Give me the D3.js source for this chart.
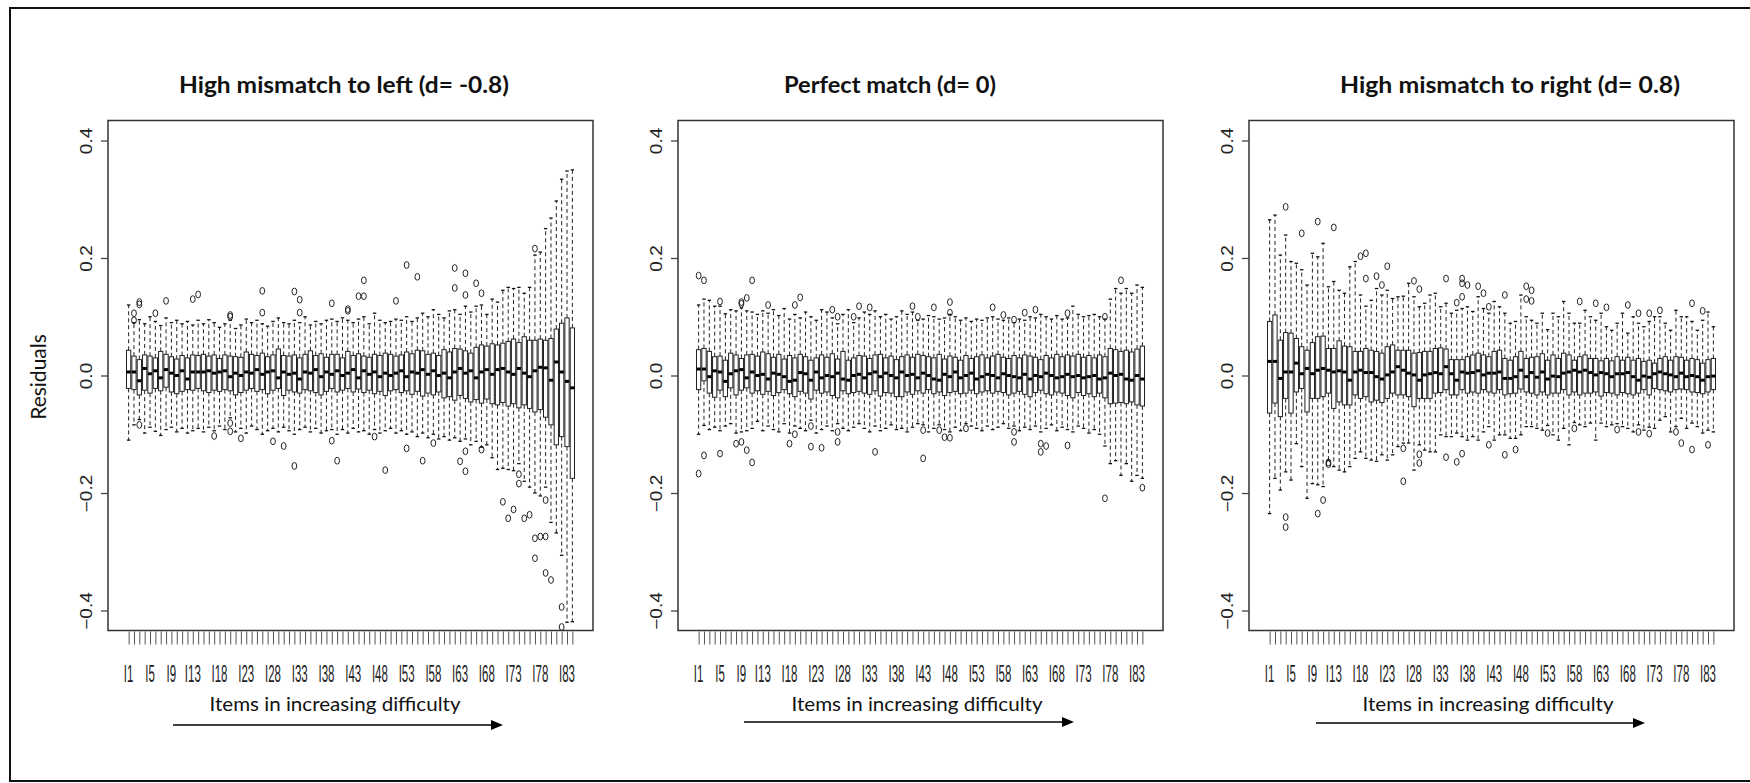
<!DOCTYPE html>
<html>
<head>
<meta charset="utf-8">
<title>Residuals by item difficulty</title>
<style>
  body { margin: 0; background: #fff; }
  svg { display: block; }
  .title { font-family: Lato, "Open Sans", sans-serif; font-weight: bold; font-size: 22px; fill: #111; }
  .xtitle { font-family: Lato, "Open Sans", sans-serif; font-size: 20px; fill: #111; }
  .ylab { font-family: Lato, "Open Sans", sans-serif; font-size: 21px; fill: #111; }
  .tick text { font-family: "Liberation Sans", Arial, sans-serif; fill: #222; }
</style>
</head>
<body>
<svg width="1750" height="783"></svg>
<script src="https://d3js.org/d3.v7.min.js"></script>
<script>
// ---- data ----
const itemCount = 84;
const labelItems = [1, 5, 9, 13, 18, 23, 28, 33, 38, 43, 48, 53, 58, 63, 68, 73, 78, 83];
const yTicks = [-0.4, -0.2, 0, 0.2, 0.4];
const titles = ['High mismatch to left (d= -0.8)', 'Perfect match (d= 0)', 'High mismatch to right (d= 0.8)'];
const xTitle = 'Items in increasing difficulty';
const yTitle = 'Residuals';

// d = -0.8
const lowQ3 = [0.043,0.033,0.027,0.035,0.033,0.030,0.041,0.036,0.032,0.028,
  0.034,0.030,0.035,0.034,0.036,0.033,0.035,0.029,0.035,0.033,
  0.032,0.031,0.040,0.036,0.034,0.038,0.032,0.035,0.045,0.034,
  0.033,0.035,0.030,0.036,0.042,0.034,0.037,0.031,0.036,0.036,
  0.030,0.041,0.034,0.037,0.033,0.031,0.036,0.034,0.038,0.036,
  0.033,0.035,0.040,0.037,0.043,0.042,0.036,0.038,0.034,0.044,
  0.040,0.046,0.045,0.042,0.038,0.048,0.052,0.050,0.054,0.052,
  0.055,0.058,0.062,0.056,0.066,0.060,0.060,0.062,0.060,0.063,
  0.079,0.089,0.098,0.081];
const lowMed = [0.006,0.006,-0.009,0.012,0.003,0.008,-0.004,0.010,0.004,0.000,
  0.008,-0.006,0.006,0.006,0.006,0.008,0.004,0.006,0.008,-0.002,
  0.004,0.000,0.006,0.004,0.010,0.002,0.006,0.008,-0.004,0.006,
  0.002,0.004,-0.006,0.006,0.004,0.010,-0.002,0.006,0.002,0.008,
  0.000,0.004,0.010,-0.004,0.008,0.002,0.006,-0.002,0.004,0.000,
  0.004,0.008,-0.002,0.006,0.004,0.010,0.002,0.008,0.000,0.004,
  -0.004,0.006,0.012,0.004,0.008,-0.004,0.006,0.010,0.002,0.010,
  0.012,0.006,0.002,0.012,0.004,-0.002,0.008,0.014,0.013,-0.008,
  0.023,0.006,-0.010,-0.021];
const lowQ1 = [-0.022,-0.024,-0.033,-0.025,-0.030,-0.022,-0.026,-0.020,-0.028,-0.031,
  -0.027,-0.024,-0.025,-0.022,-0.026,-0.029,-0.025,-0.027,-0.024,-0.026,
  -0.033,-0.029,-0.025,-0.022,-0.027,-0.024,-0.031,-0.025,-0.022,-0.034,
  -0.025,-0.028,-0.030,-0.024,-0.026,-0.029,-0.033,-0.027,-0.022,-0.028,
  -0.025,-0.022,-0.028,-0.023,-0.029,-0.025,-0.031,-0.027,-0.034,-0.026,
  -0.024,-0.029,-0.026,-0.032,-0.027,-0.035,-0.030,-0.033,-0.028,-0.038,
  -0.036,-0.042,-0.034,-0.039,-0.045,-0.041,-0.047,-0.040,-0.048,-0.050,
  -0.046,-0.052,-0.048,-0.055,-0.050,-0.056,-0.062,-0.058,-0.071,-0.084,
  -0.118,-0.104,-0.121,-0.175];
const lowHi = [0.120,0.090,0.095,0.088,0.100,0.092,0.085,0.098,0.090,0.094,
  0.088,0.092,0.086,0.094,0.088,0.095,0.090,0.082,0.088,0.094,
  0.080,0.086,0.096,0.090,0.094,0.088,0.084,0.092,0.098,0.090,
  0.088,0.094,0.090,0.100,0.086,0.092,0.088,0.094,0.096,0.092,
  0.098,0.094,0.090,0.096,0.100,0.088,0.106,0.094,0.090,0.092,
  0.096,0.094,0.100,0.092,0.098,0.106,0.100,0.112,0.104,0.098,
  0.110,0.112,0.104,0.118,0.108,0.118,0.120,0.104,0.130,0.125,
  0.145,0.150,0.148,0.150,0.140,0.150,0.205,0.210,0.250,0.268,
  0.297,0.334,0.348,0.350];
const lowLo = [-0.110,-0.084,-0.075,-0.098,-0.088,-0.095,-0.102,-0.092,-0.088,-0.096,
  -0.090,-0.098,-0.094,-0.090,-0.096,-0.088,-0.094,-0.086,-0.092,-0.072,
  -0.096,-0.090,-0.098,-0.086,-0.092,-0.100,-0.094,-0.090,-0.096,-0.088,
  -0.094,-0.100,-0.092,-0.088,-0.096,-0.090,-0.098,-0.094,-0.092,-0.100,
  -0.092,-0.098,-0.090,-0.096,-0.094,-0.100,-0.092,-0.098,-0.094,-0.090,
  -0.098,-0.094,-0.100,-0.096,-0.104,-0.098,-0.106,-0.100,-0.108,-0.104,
  -0.110,-0.106,-0.112,-0.108,-0.118,-0.112,-0.122,-0.118,-0.140,-0.160,
  -0.158,-0.160,-0.162,-0.150,-0.180,-0.190,-0.200,-0.205,-0.190,-0.250,
  -0.268,-0.306,-0.420,-0.419];
const lowOut = [[2,0.106],[2,0.094],[3,0.125],[3,0.121],[3,-0.084],[6,0.106],[8,0.127],[13,0.130],
  [14,0.138],[17,-0.103],[20,0.103],[20,0.100],[20,-0.081],[20,-0.095],[22,-0.107],[26,0.144],
  [26,0.107],[28,-0.112],[30,-0.120],[32,0.143],[32,-0.154],[33,0.129],[33,0.107],[39,0.123],
  [39,-0.111],[40,-0.145],[42,0.110],[42,0.113],[44,0.135],[45,0.135],[45,0.162],[47,-0.104],
  [49,-0.161],[51,0.127],[53,0.188],[53,-0.124],[55,0.168],[56,-0.145],[58,-0.115],[62,0.183],
  [62,0.149],[63,-0.146],[64,0.174],[64,0.137],[64,-0.129],[64,-0.163],[66,0.157],[67,0.140],
  [67,-0.126],[71,-0.215],[72,-0.243],[73,-0.228],[74,-0.168],[74,-0.184],[75,-0.243],[76,-0.237],
  [77,0.216],[77,-0.277],[77,-0.311],[78,-0.274],[79,-0.274],[79,-0.336],[79,-0.212],[80,-0.348],
  [82,-0.394],[82,-0.428]];

// d = 0
const perfQ3 = [0.044,0.046,0.041,0.032,0.033,0.026,0.038,0.035,0.029,0.035,
  0.036,0.033,0.040,0.037,0.031,0.036,0.028,0.034,0.030,0.036,
  0.032,0.026,0.030,0.035,0.031,0.037,0.028,0.041,0.026,0.030,
  0.034,0.033,0.029,0.035,0.036,0.030,0.033,0.027,0.032,0.035,
  0.031,0.036,0.034,0.032,0.030,0.036,0.028,0.033,0.031,0.026,
  0.034,0.029,0.032,0.035,0.030,0.033,0.036,0.031,0.029,0.034,
  0.030,0.035,0.033,0.031,0.027,0.034,0.030,0.036,0.032,0.035,
  0.033,0.036,0.031,0.034,0.030,0.035,0.032,0.046,0.044,0.041,
  0.043,0.040,0.045,0.050];
const perfMed = [0.011,0.011,-0.002,0.008,0.006,-0.010,0.003,0.008,0.010,-0.004,
  0.006,0.000,0.002,-0.006,0.004,0.002,-0.002,-0.010,-0.008,0.005,
  0.003,-0.008,0.006,-0.004,0.000,-0.002,0.004,-0.006,-0.008,0.000,
  0.002,-0.004,0.003,0.006,-0.002,0.004,0.000,-0.004,0.006,0.000,
  0.002,-0.004,0.004,0.000,-0.006,-0.008,0.002,-0.002,0.006,-0.004,
  0.000,0.004,-0.006,-0.002,0.002,0.000,-0.004,0.003,0.000,-0.002,
  -0.004,0.002,-0.006,0.000,-0.002,0.004,0.000,-0.004,-0.002,0.002,
  -0.002,0.000,-0.004,-0.002,0.000,-0.006,-0.004,0.004,0.000,0.002,
  -0.006,-0.008,0.000,-0.006];
const perfQ1 = [-0.024,-0.009,-0.030,-0.037,-0.025,-0.036,-0.021,-0.033,-0.025,-0.021,
  -0.030,-0.026,-0.032,-0.027,-0.034,-0.029,-0.024,-0.031,-0.036,-0.027,
  -0.030,-0.040,-0.025,-0.030,-0.028,-0.034,-0.038,-0.026,-0.031,-0.029,
  -0.027,-0.030,-0.032,-0.026,-0.035,-0.029,-0.030,-0.036,-0.036,-0.028,
  -0.032,-0.026,-0.030,-0.024,-0.031,-0.028,-0.034,-0.029,-0.027,-0.031,
  -0.030,-0.025,-0.031,-0.028,-0.026,-0.030,-0.027,-0.029,-0.033,-0.030,
  -0.027,-0.032,-0.036,-0.029,-0.025,-0.031,-0.033,-0.028,-0.030,-0.034,
  -0.038,-0.029,-0.034,-0.031,-0.036,-0.030,-0.038,-0.048,-0.047,-0.046,
  -0.048,-0.045,-0.050,-0.052];
const perfHi = [0.120,0.130,0.128,0.118,0.118,0.105,0.112,0.110,0.115,0.110,
  0.108,0.104,0.110,0.106,0.112,0.102,0.114,0.096,0.104,0.098,
  0.108,0.100,0.094,0.112,0.108,0.098,0.088,0.104,0.112,0.090,
  0.098,0.108,0.104,0.110,0.100,0.104,0.096,0.100,0.110,0.104,
  0.108,0.094,0.096,0.102,0.100,0.096,0.098,0.104,0.100,0.094,
  0.098,0.092,0.096,0.094,0.098,0.100,0.096,0.094,0.098,0.090,
  0.096,0.094,0.100,0.098,0.104,0.100,0.096,0.102,0.096,0.098,
  0.118,0.104,0.100,0.102,0.104,0.100,0.096,0.130,0.148,0.140,
  0.148,0.140,0.154,0.150];
const perfLo = [-0.100,-0.085,-0.092,-0.088,-0.094,-0.086,-0.082,-0.098,-0.096,-0.094,
  -0.090,-0.078,-0.094,-0.086,-0.092,-0.096,-0.082,-0.098,-0.086,-0.090,
  -0.094,-0.076,-0.098,-0.092,-0.086,-0.094,-0.082,-0.090,-0.094,-0.088,
  -0.082,-0.090,-0.096,-0.086,-0.094,-0.090,-0.084,-0.092,-0.090,-0.096,
  -0.088,-0.082,-0.084,-0.096,-0.090,-0.084,-0.092,-0.096,-0.088,-0.094,
  -0.082,-0.086,-0.090,-0.094,-0.086,-0.092,-0.088,-0.082,-0.090,-0.086,
  -0.094,-0.088,-0.092,-0.086,-0.096,-0.090,-0.084,-0.094,-0.088,-0.092,
  -0.096,-0.086,-0.090,-0.098,-0.092,-0.100,-0.120,-0.150,-0.145,-0.170,
  -0.150,-0.180,-0.170,-0.175];
const perfOut = [[1,0.170],[2,0.162],[5,0.126],[9,0.122],[9,0.125],[10,0.132],[11,0.162],[14,0.120],
  [19,0.120],[20,0.133],[26,0.112],[27,0.100],[30,0.100],[31,0.118],[33,0.116],[41,0.118],
  [42,0.100],[45,0.116],[48,0.125],[48,0.107],[56,0.116],[58,0.103],[60,0.095],[62,0.107],
  [64,0.112],[70,0.106],[77,0.100],[80,0.162],
  [1,-0.167],[2,-0.136],[5,-0.133],[8,-0.116],[9,-0.113],[10,-0.127],[11,-0.148],[18,-0.116],
  [19,-0.100],[22,-0.086],[22,-0.121],[24,-0.123],[27,-0.096],[27,-0.113],[34,-0.130],[43,-0.093],
  [43,-0.141],[46,-0.093],[47,-0.105],[48,-0.106],[51,-0.090],[60,-0.096],[60,-0.113],[65,-0.116],
  [65,-0.130],[66,-0.120],[70,-0.119],[77,-0.209],[84,-0.191]];

// d = 0.8
const highQ3 = [0.092,0.103,0.060,0.073,0.072,0.063,0.049,0.043,0.056,0.066,
  0.067,0.046,0.046,0.059,0.050,0.049,0.041,0.041,0.046,0.043,
  0.041,0.038,0.049,0.052,0.043,0.043,0.043,0.038,0.039,0.041,
  0.041,0.046,0.047,0.045,0.027,0.027,0.027,0.032,0.035,0.038,
  0.035,0.032,0.041,0.043,0.029,0.026,0.032,0.041,0.029,0.031,
  0.032,0.037,0.026,0.035,0.029,0.038,0.035,0.026,0.032,0.035,
  0.029,0.029,0.025,0.029,0.025,0.032,0.026,0.031,0.026,0.029,
  0.024,0.026,0.021,0.029,0.032,0.026,0.032,0.031,0.026,0.029,
  0.027,0.021,0.027,0.029];
const highMed = [0.024,0.024,-0.005,0.006,0.006,0.021,0.003,0.012,0.003,0.009,
  0.012,0.009,0.006,0.008,0.006,-0.008,0.006,0.009,0.005,0.005,
  -0.002,-0.006,0.001,0.006,0.015,0.009,0.004,0.001,-0.008,0.001,
  0.003,0.005,0.003,0.015,0.003,-0.008,0.006,0.004,0.005,0.008,
  0.001,0.004,0.004,0.006,-0.005,-0.005,-0.002,0.009,-0.002,0.005,
  -0.003,0.006,-0.006,-0.001,-0.002,0.004,0.006,0.009,0.006,0.009,
  0.005,0.001,0.005,0.003,-0.002,0.003,0.003,0.005,-0.002,-0.008,
  -0.001,-0.003,0.003,0.006,0.003,0.001,-0.002,0.004,-0.002,0.000,
  -0.002,-0.008,-0.002,-0.001];
const highQ1 = [-0.064,-0.047,-0.070,-0.039,-0.064,-0.028,-0.022,-0.062,-0.039,-0.039,
  -0.036,-0.030,-0.056,-0.045,-0.050,-0.050,-0.033,-0.039,-0.036,-0.045,
  -0.042,-0.046,-0.039,-0.030,-0.033,-0.033,-0.036,-0.053,-0.039,-0.039,
  -0.039,-0.030,-0.029,-0.024,-0.033,-0.033,-0.024,-0.030,-0.028,-0.030,
  -0.024,-0.028,-0.030,-0.024,-0.033,-0.031,-0.030,-0.023,-0.028,-0.030,
  -0.033,-0.028,-0.033,-0.030,-0.030,-0.024,-0.033,-0.028,-0.033,-0.030,
  -0.030,-0.028,-0.035,-0.029,-0.030,-0.033,-0.029,-0.031,-0.033,-0.030,
  -0.024,-0.033,-0.022,-0.024,-0.026,-0.028,-0.024,-0.023,-0.024,-0.028,
  -0.029,-0.031,-0.028,-0.024];
const highHi = [0.265,0.273,0.205,0.239,0.194,0.191,0.180,0.154,0.208,0.202,
  0.225,0.151,0.160,0.145,0.140,0.185,0.194,0.137,0.118,0.128,
  0.148,0.137,0.145,0.131,0.134,0.135,0.157,0.134,0.117,0.123,
  0.137,0.140,0.117,0.123,0.106,0.111,0.114,0.117,0.109,0.134,
  0.114,0.106,0.126,0.117,0.106,0.089,0.092,0.137,0.100,0.094,
  0.089,0.106,0.078,0.106,0.100,0.126,0.106,0.089,0.089,0.111,
  0.100,0.094,0.106,0.083,0.077,0.089,0.106,0.072,0.100,0.089,
  0.083,0.092,0.100,0.100,0.089,0.077,0.111,0.100,0.100,0.092,
  0.077,0.094,0.108,0.083];
const highLo = [-0.235,-0.175,-0.195,-0.164,-0.178,-0.116,-0.155,-0.209,-0.184,-0.186,
  -0.189,-0.144,-0.155,-0.161,-0.164,-0.155,-0.141,-0.130,-0.141,-0.144,
  -0.146,-0.135,-0.144,-0.135,-0.121,-0.115,-0.115,-0.161,-0.118,-0.127,
  -0.130,-0.130,-0.101,-0.104,-0.104,-0.098,-0.104,-0.110,-0.104,-0.110,
  -0.096,-0.087,-0.110,-0.101,-0.101,-0.107,-0.107,-0.101,-0.087,-0.087,
  -0.090,-0.093,-0.085,-0.101,-0.110,-0.090,-0.118,-0.080,-0.084,-0.087,
  -0.081,-0.110,-0.081,-0.087,-0.084,-0.082,-0.087,-0.090,-0.096,-0.084,
  -0.093,-0.088,-0.090,-0.076,-0.070,-0.096,-0.087,-0.073,-0.090,-0.081,
  -0.087,-0.098,-0.093,-0.096];
const highOut = [[4,0.287],[4,-0.241],[4,-0.258],[7,0.242],[10,0.262],[10,-0.235],[11,-0.212],[12,-0.148],
  [12,-0.151],[13,0.252],[18,0.203],[19,0.208],[19,0.165],[21,0.169],[22,0.154],[23,0.186],
  [26,-0.124],[26,-0.180],[28,0.161],[29,0.147],[29,-0.134],[29,-0.149],[34,0.165],[34,-0.139],
  [36,0.124],[36,-0.147],[37,0.165],[37,0.157],[37,0.134],[37,-0.133],[38,0.154],[40,0.152],
  [41,0.140],[42,0.117],[42,-0.118],[45,0.137],[45,-0.135],[47,-0.126],[49,0.152],[49,0.130],
  [50,0.145],[50,0.127],[53,-0.098],[58,-0.090],[59,0.126],[62,0.123],[64,0.116],[66,-0.092],
  [68,0.120],[70,0.106],[70,-0.096],[72,0.106],[72,-0.099],[74,0.111],[77,-0.096],[78,-0.115],
  [80,0.123],[80,-0.126],[82,0.110],[83,-0.118]];

// ---- layout ----
const svg = d3.select('svg');
const plotTop = 120.5, plotBottom = 630.5, plotWidth = 485;
const y = d3.scaleLinear().domain([-0.434, 0.434]).range([plotBottom, plotTop]);
const pad = itemCount * 0.04;

const panels = [
  { left: 108,  q3: lowQ3,  med: lowMed,  q1: lowQ1,  hi: lowHi,  lo: lowLo,  out: lowOut,
    titleX: 344, titleW: 330, xTitleX: 335, arrow: [173, 503, 725] },
  { left: 678,  q3: perfQ3, med: perfMed, q1: perfQ1, hi: perfHi, lo: perfLo, out: perfOut,
    titleX: 890, titleW: 212, xTitleX: 917, arrow: [744, 1074, 722] },
  { left: 1249, q3: highQ3, med: highMed, q1: highQ1, hi: highHi, lo: highLo, out: highOut,
    titleX: 1510, titleW: 340, xTitleX: 1488, arrow: [1316, 1645, 723] }
];

// outer frame
svg.append('rect').attr('x', 10).attr('y', 8).attr('width', 1780).attr('height', 773)
  .attr('fill', 'none').attr('stroke', '#111').attr('stroke-width', 2);

panels.forEach((p, k) => {
  const x = d3.scaleLinear()
    .domain([0.5 - pad, itemCount + 0.5 + pad])
    .range([p.left, p.left + plotWidth]);
  const bw = (x(1) - x(0)) * 0.8;
  const sw = bw * 0.8;
  const boxes = d3.range(itemCount).map(i => ({
    i: i + 1, q1: p.q1[i], med: p.med[i], q3: p.q3[i], hi: p.hi[i], lo: p.lo[i]
  }));
  const g = svg.append('g');

  // whiskers
  g.selectAll('line.wup').data(boxes).join('line').attr('class', 'wup')
    .attr('x1', d => x(d.i)).attr('x2', d => x(d.i))
    .attr('y1', d => y(d.q3)).attr('y2', d => y(d.hi))
    .attr('stroke', '#222').attr('stroke-width', 1).attr('stroke-dasharray', '4,3');
  g.selectAll('line.wdn').data(boxes).join('line').attr('class', 'wdn')
    .attr('x1', d => x(d.i)).attr('x2', d => x(d.i))
    .attr('y1', d => y(d.q1)).attr('y2', d => y(d.lo))
    .attr('stroke', '#222').attr('stroke-width', 1).attr('stroke-dasharray', '4,3');
  // staples
  g.selectAll('line.shi').data(boxes).join('line').attr('class', 'shi')
    .attr('x1', d => x(d.i) - sw / 2).attr('x2', d => x(d.i) + sw / 2)
    .attr('y1', d => y(d.hi)).attr('y2', d => y(d.hi))
    .attr('stroke', '#111').attr('stroke-width', 1.3);
  g.selectAll('line.slo').data(boxes).join('line').attr('class', 'slo')
    .attr('x1', d => x(d.i) - sw / 2).attr('x2', d => x(d.i) + sw / 2)
    .attr('y1', d => y(d.lo)).attr('y2', d => y(d.lo))
    .attr('stroke', '#111').attr('stroke-width', 1.3);
  // boxes
  g.selectAll('rect.box').data(boxes).join('rect').attr('class', 'box')
    .attr('x', d => x(d.i) - bw / 2).attr('width', bw)
    .attr('y', d => y(d.q3)).attr('height', d => y(d.q1) - y(d.q3))
    .attr('fill', '#fff').attr('stroke', '#222').attr('stroke-width', 1);
  // medians
  g.selectAll('line.med').data(boxes).join('line').attr('class', 'med')
    .attr('x1', d => x(d.i) - bw / 2).attr('x2', d => x(d.i) + bw / 2)
    .attr('y1', d => y(d.med)).attr('y2', d => y(d.med))
    .attr('stroke', '#000').attr('stroke-width', 3);
  // outliers
  g.selectAll('ellipse.out').data(p.out).join('ellipse').attr('class', 'out')
    .attr('cx', d => x(d[0])).attr('cy', d => y(d[1]))
    .attr('rx', 2.4).attr('ry', 3.4)
    .attr('fill', 'none').attr('stroke', '#222').attr('stroke-width', 1);

  // plot frame
  svg.append('rect').attr('x', p.left).attr('y', plotTop)
    .attr('width', plotWidth).attr('height', plotBottom - plotTop)
    .attr('fill', 'none').attr('stroke', '#333').attr('stroke-width', 1.5);

  // y axis
  const ya = svg.append('g').attr('transform', `translate(${p.left},0)`)
    .call(d3.axisLeft(y).tickValues(yTicks).tickSize(7).tickFormat(d3.format('.1f')));
  ya.select('.domain').remove();
  ya.selectAll('.tick line').attr('stroke', '#444').attr('stroke-width', 1.3);
  ya.selectAll('.tick text')
    .attr('x', null).attr('dy', null)
    .attr('text-anchor', 'middle').attr('dominant-baseline', 'central')
    .attr('font-size', 19)
    .attr('transform', 'translate(-21,0) scale(0.85,1) rotate(-90)');

  // x axis: a tick for every item, labels where R kept them
  const xa = svg.append('g').attr('transform', `translate(0,${plotBottom + 1})`)
    .call(d3.axisBottom(x).tickValues(d3.range(1, itemCount + 1)).tickSize(13).tickFormat(''));
  xa.select('.domain').remove();
  xa.selectAll('.tick line').attr('stroke', '#555').attr('stroke-width', 1);
  svg.append('g').selectAll('text').data(labelItems).join('text')
    .attr('transform', d => `translate(${x(d)},${plotBottom + 51}) scale(0.5,1)`)
    .attr('text-anchor', 'middle')
    .attr('font-family', '"Liberation Sans", Arial, sans-serif')
    .attr('font-size', 23).attr('fill', '#222')
    .text(d => 'I' + d);

  // titles
  svg.append('text').attr('class', 'title')
    .attr('x', p.titleX).attr('y', 93).attr('text-anchor', 'middle')
    .attr('textLength', p.titleW).attr('lengthAdjust', 'spacingAndGlyphs')
    .text(titles[k]);
  svg.append('text').attr('class', 'xtitle')
    .attr('x', p.xTitleX).attr('y', 711).attr('text-anchor', 'middle')
    .attr('textLength', 251).attr('lengthAdjust', 'spacingAndGlyphs')
    .text(xTitle);

  // arrow
  const [ax0, ax1, ay] = p.arrow;
  svg.append('line').attr('x1', ax0).attr('x2', ax1 - 10).attr('y1', ay).attr('y2', ay)
    .attr('stroke', '#000').attr('stroke-width', 1.5);
  svg.append('path')
    .attr('d', `M${ax1},${ay} L${ax1 - 12},${ay - 5} L${ax1 - 12},${ay + 5} Z`)
    .attr('fill', '#000');
});

// y title
svg.append('text').attr('class', 'ylab')
  .attr('transform', 'translate(46,377) rotate(-90)')
  .attr('text-anchor', 'middle')
  .text(yTitle);
</script>
</body>
</html>
